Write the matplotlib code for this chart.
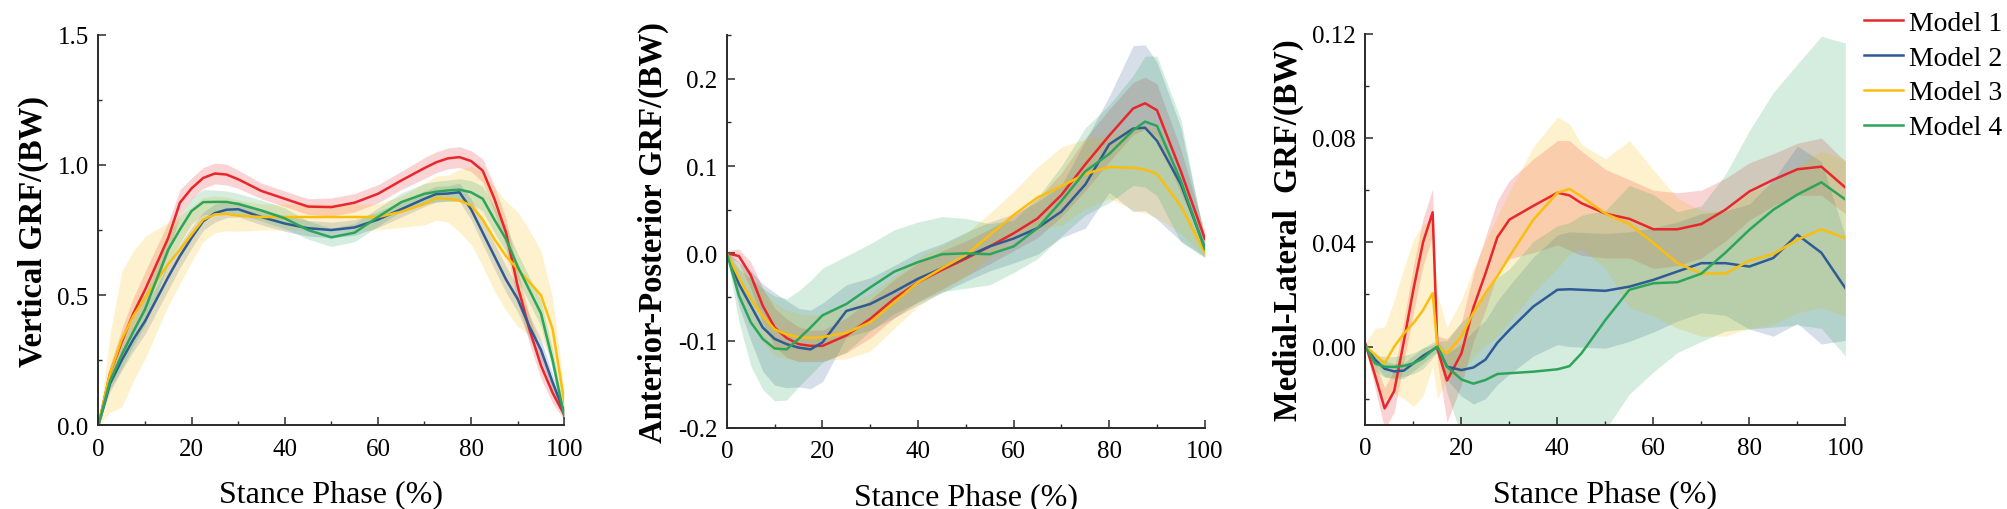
import matplotlib
matplotlib.use("Agg")
import matplotlib.pyplot as plt
from matplotlib.ticker import MultipleLocator, FormatStrFormatter
import numpy as np

plt.rcParams['font.family'] = ['Liberation Serif', 'DejaVu Serif']
plt.rcParams['axes.unicode_minus'] = False

models = ['Model 1', 'Model 2', 'Model 3', 'Model 4']
colors = ['#e8262b', '#2e5b94', '#fbbd0e', '#2ca55a']

# ---- Vertical GRF ----
x_v = [0, 2.5, 5, 7.5, 10, 15, 17.5, 20, 22.5, 25, 27.5, 30, 35, 40, 45, 50, 55, 60, 65, 70,
       72.5, 75, 77.5, 80, 82.5, 85, 87.5, 90, 92.5, 95, 97.5, 100]
v_m1 = [0, 0.20, 0.32, 0.43, 0.52, 0.72, 0.855, 0.91, 0.95, 0.967, 0.963, 0.945, 0.90, 0.87, 0.84, 0.838, 0.855, 0.889, 0.94, 0.988,
        1.01, 1.025, 1.03, 1.015, 0.978, 0.87, 0.74, 0.535, 0.37, 0.23, 0.125, 0.04]
v_m2 = [0, 0.16, 0.25, 0.33, 0.40, 0.57, 0.65, 0.72, 0.784, 0.815, 0.828, 0.83, 0.80, 0.775, 0.757, 0.75, 0.76, 0.79, 0.83, 0.87,
        0.888, 0.89, 0.895, 0.83, 0.74, 0.65, 0.56, 0.485, 0.38, 0.29, 0.165, 0.05]
v_m3 = [0, 0.20, 0.33, 0.42, 0.49, 0.62, 0.675, 0.733, 0.79, 0.81, 0.812, 0.805, 0.80, 0.80, 0.80, 0.80, 0.80, 0.80, 0.82, 0.85,
        0.873, 0.87, 0.863, 0.845, 0.79, 0.715, 0.65, 0.60, 0.55, 0.50, 0.37, 0.09]
v_m4 = [0, 0.17, 0.27, 0.36, 0.445, 0.675, 0.752, 0.823, 0.857, 0.858, 0.858, 0.85, 0.825, 0.795, 0.75, 0.722, 0.74, 0.80, 0.857, 0.889,
        0.897, 0.902, 0.905, 0.895, 0.87, 0.79, 0.715, 0.61, 0.52, 0.43, 0.25, 0.035]
v_s1 = [0, 0.03, 0.05, 0.06, 0.07, 0.06, 0.05, 0.04, 0.04, 0.04, 0.04, 0.035, 0.03, 0.03, 0.03, 0.035, 0.035, 0.035, 0.035, 0.04,
        0.04, 0.04, 0.04, 0.04, 0.045, 0.05, 0.055, 0.06, 0.055, 0.05, 0.04, 0.02]
v_s2 = [0, 0.03, 0.04, 0.045, 0.05, 0.05, 0.045, 0.04, 0.035, 0.035, 0.03, 0.03, 0.03, 0.03, 0.03, 0.03, 0.03, 0.03, 0.03, 0.03,
        0.03, 0.03, 0.035, 0.04, 0.045, 0.05, 0.05, 0.05, 0.045, 0.04, 0.03, 0.02]
v_s3 = [0, 0.15, 0.26, 0.25, 0.235, 0.16, 0.13, 0.105, 0.085, 0.07, 0.065, 0.06, 0.05, 0.05, 0.05, 0.05, 0.05, 0.05, 0.06, 0.08,
        0.085, 0.09, 0.12, 0.15, 0.18, 0.20, 0.21, 0.22, 0.2, 0.17, 0.12, 0.05]
v_s4 = [0, 0.03, 0.05, 0.055, 0.06, 0.055, 0.052, 0.05, 0.048, 0.045, 0.042, 0.04, 0.04, 0.04, 0.035, 0.035, 0.035, 0.035, 0.035, 0.04,
        0.04, 0.04, 0.042, 0.045, 0.048, 0.05, 0.05, 0.05, 0.05, 0.05, 0.04, 0.02]

# ---- Anterior-Posterior GRF ----
x_ap = [0, 2.5, 5, 7.5, 10, 12.5, 15, 17.5, 20, 25, 30, 35, 40, 45, 50, 55, 60, 65, 70, 75, 80, 85, 87.5, 90, 95, 100]
ap_m1 = [0, -0.003, -0.025, -0.06, -0.085, -0.097, -0.104, -0.106, -0.106, -0.094, -0.075, -0.052, -0.033, -0.019, -0.006, 0.008, 0.023, 0.04, 0.067, 0.102, 0.135, 0.166, 0.172, 0.164, 0.094, 0.017]
ap_m2 = [0, -0.035, -0.06, -0.085, -0.098, -0.104, -0.108, -0.11, -0.102, -0.066, -0.058, -0.044, -0.029, -0.017, -0.004, 0.008, 0.017, 0.029, 0.048, 0.079, 0.125, 0.143, 0.144, 0.129, 0.079, 0.006]
ap_m3 = [0, -0.028, -0.052, -0.072, -0.087, -0.093, -0.096, -0.097, -0.096, -0.091, -0.079, -0.056, -0.033, -0.017, -0.002, 0.021, 0.044, 0.064, 0.077, 0.091, 0.099, 0.098, 0.096, 0.091, 0.054, 0.001]
ap_m4 = [0, -0.048, -0.079, -0.098, -0.109, -0.11, -0.098, -0.085, -0.071, -0.058, -0.039, -0.021, -0.010, -0.001, 0.0, -0.001, 0.008, 0.029, 0.06, 0.094, 0.114, 0.141, 0.151, 0.146, 0.083, 0.005]
ap_s1 = [0.003, 0.008, 0.015, 0.02, 0.022, 0.022, 0.02, 0.018, 0.018, 0.02, 0.022, 0.022, 0.022, 0.022, 0.02, 0.02, 0.02, 0.022, 0.025, 0.03, 0.03, 0.03, 0.03, 0.03, 0.025, 0.008]
ap_s2 = [0.003, 0.025, 0.04, 0.05, 0.053, 0.05, 0.045, 0.045, 0.045, 0.03, 0.03, 0.03, 0.03, 0.028, 0.028, 0.028, 0.028, 0.03, 0.03, 0.05, 0.055, 0.095, 0.095, 0.09, 0.065, 0.01]
ap_s3 = [0.003, 0.015, 0.025, 0.03, 0.03, 0.028, 0.027, 0.026, 0.026, 0.03, 0.033, 0.03, 0.028, 0.026, 0.025, 0.025, 0.027, 0.035, 0.045, 0.04, 0.036, 0.048, 0.05, 0.05, 0.031, 0.005]
ap_s4 = [0.003, 0.03, 0.05, 0.058, 0.06, 0.058, 0.055, 0.054, 0.054, 0.055, 0.05, 0.048, 0.046, 0.043, 0.04, 0.035, 0.03, 0.035, 0.04, 0.05, 0.056, 0.063, 0.075, 0.08, 0.07, 0.01]

# ---- Medial-Lateral GRF ----
x_ml = [0, 2, 4, 6, 8, 10, 12, 14, 15, 17, 20, 22.5, 25, 27.5, 30, 35, 40, 42.5, 45, 50, 55, 60, 65, 70, 75, 80, 85, 90, 95, 100]
ml_m1 = [0.001, -0.011, -0.0237, -0.017, 0.002, 0.022, 0.040, 0.0515, -0.001, -0.013, -0.0026, 0.015, 0.028, 0.042, 0.0487, 0.054, 0.059, 0.058, 0.055, 0.051, 0.049, 0.045, 0.045, 0.047, 0.0525, 0.0595, 0.064, 0.068, 0.069, 0.061]
ml_m2 = [0, -0.005, -0.0085, -0.0095, -0.0092, -0.0064, -0.0035, -0.0013, 0.0, -0.0077, -0.009, -0.008, -0.005, 0.0015, 0.0064, 0.0154, 0.0218, 0.022, 0.0218, 0.0214, 0.023, 0.0256, 0.0288, 0.032, 0.032, 0.0307, 0.034, 0.0429, 0.036, 0.0224]
ml_m3 = [0, -0.003, -0.0064, 0.0, 0.005, 0.009, 0.014, 0.0205, 0.0, -0.0026, 0.004, 0.013, 0.0205, 0.027, 0.0346, 0.0487, 0.059, 0.0605, 0.0576, 0.051, 0.047, 0.0397, 0.032, 0.028, 0.028, 0.033, 0.0355, 0.041, 0.045, 0.0416]
ml_m4 = [0, -0.0064, -0.0077, -0.0078, -0.0074, -0.0064, -0.0045, -0.0013, 0.0, -0.0077, -0.0126, -0.0142, -0.0128, -0.0105, -0.0102, -0.0096, -0.0087, -0.0075, -0.0026, 0.0102, 0.0218, 0.0243, 0.0247, 0.028, 0.036, 0.0448, 0.0525, 0.0583, 0.063, 0.0564]
ml_s1 = [0.001, 0.005, 0.008, 0.008, 0.008, 0.009, 0.009, 0.009, 0.005, 0.016, 0.012, 0.013, 0.014, 0.014, 0.015, 0.018, 0.02, 0.021, 0.02, 0.017, 0.015, 0.015, 0.014, 0.013, 0.012, 0.011, 0.01, 0.01, 0.011, 0.01]
ml_s2 = [0.001, 0.002, 0.003, 0.003, 0.003, 0.003, 0.003, 0.002, 0.002, 0.005, 0.01, 0.014, 0.015, 0.016, 0.017, 0.019, 0.021, 0.022, 0.022, 0.022, 0.021, 0.02, 0.019, 0.019, 0.02, 0.024, 0.03, 0.034, 0.035, 0.02]
ml_s3 = [0.001, 0.01, 0.014, 0.018, 0.025, 0.032, 0.033, 0.028, 0.02, 0.01, 0.014, 0.017, 0.02, 0.023, 0.025, 0.028, 0.029, 0.025, 0.02, 0.021, 0.032, 0.028, 0.025, 0.024, 0.024, 0.026, 0.027, 0.028, 0.03, 0.03]
ml_s4 = [0.001, 0.003, 0.004, 0.004, 0.004, 0.004, 0.004, 0.003, 0.002, 0.01, 0.022, 0.028, 0.033, 0.037, 0.04, 0.05, 0.055, 0.055, 0.053, 0.042, 0.04, 0.034, 0.027, 0.026, 0.03, 0.038, 0.045, 0.05, 0.056, 0.06]

panels = [
    (x_v, [v_m1, v_m2, v_m3, v_m4], [v_s1, v_s2, v_s3, v_s4]),
    (x_ap, [ap_m1, ap_m2, ap_m3, ap_m4], [ap_s1, ap_s2, ap_s3, ap_s4]),
    (x_ml, [ml_m1, ml_m2, ml_m3, ml_m4], [ml_s1, ml_s2, ml_s3, ml_s4]),
]
ylabels = ['Vertical GRF/(BW)', 'Anterior-Posterior GRF/(BW)', 'Medial-Lateral  GRF/(BW)']
ylims = [(0, 1.5), (-0.2, 0.25), (-0.03, 0.12)]
ymajor = [0.5, 0.1, 0.04]
yminor = [0.25, 0.05, 0.02]
yfmt = ['%.1f', '%.1f', '%.2f']
positions = [
    [0.049, 0.164, 0.232, 0.766],
    [0.362, 0.159, 0.238, 0.770],
    [0.680, 0.165, 0.239, 0.767],
]

fig = plt.figure(figsize=(20.08, 5.10), dpi=100)

for k, (xs, means, sds) in enumerate(panels):
    ax = fig.add_axes(positions[k])
    x = np.array(xs)
    for m, s, c, lab in zip(means, sds, colors, models):
        m = np.array(m)
        s = np.array(s)
        # band first, then the mean line, model by model
        ax.fill_between(x, m - s, m + s, color=c, alpha=0.2, linewidth=0)
        ax.plot(x, m, color=c, lw=1.8, label=lab)
    ax.set_xlim(0, 100)
    ax.set_ylim(*ylims[k])
    ax.xaxis.set_major_locator(MultipleLocator(20))
    ax.xaxis.set_minor_locator(MultipleLocator(10))
    ax.yaxis.set_major_locator(MultipleLocator(ymajor[k]))
    ax.yaxis.set_minor_locator(MultipleLocator(yminor[k]))
    ax.yaxis.set_major_formatter(FormatStrFormatter(yfmt[k]))
    for side in ['top', 'right']:
        ax.spines[side].set_visible(False)
    for side in ['left', 'bottom']:
        ax.spines[side].set_linewidth(1.4)
        ax.spines[side].set_color('#2b2b2b')
    ax.tick_params(which='major', direction='in', length=5.5, width=1.1, labelsize=18, color='#2b2b2b')
    ax.tick_params(which='minor', direction='in', length=3, width=1.0, color='#2b2b2b')
    ax.tick_params(axis='x', which='major', pad=9)
    ax.tick_params(axis='y', which='major', pad=7)
    ax.set_xlabel('Stance Phase (%)', fontsize=23, labelpad=14)
    ax.set_ylabel(ylabels[k], fontsize=23.5, fontweight='bold', labelpad=6)
    if k == 2:
        ax.legend(loc='upper left', bbox_to_anchor=(0.9285, 0.978), bbox_transform=fig.transFigure,
                  frameon=False, fontsize=20, handlelength=1.4, handletextpad=0.2,
                  labelspacing=0.34, borderpad=0, borderaxespad=0)

fig.savefig('out.png', dpi=100)
